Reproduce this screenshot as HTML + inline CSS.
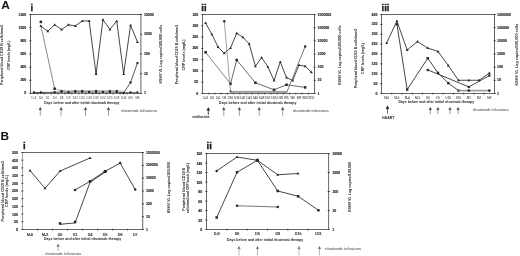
<!DOCTYPE html>
<html><head><meta charset="utf-8"><style>
html,body{margin:0;padding:0;background:#fff;width:520px;height:256px;overflow:hidden}
svg{display:block;will-change:transform;filter:blur(0.25px)}
text{font-family:"Liberation Sans",sans-serif}
</style></head><body>
<svg width="520" height="256" viewBox="0 0 520 256">
<rect width="520" height="256" fill="#fff"/>
<text x="0" y="0" font-size="10.2" font-weight="bold" fill="#111" transform="translate(1.3 9.2) scale(1.17 1)">A</text>
<text x="30.60" y="11.20" font-size="9.5" text-anchor="start" fill="#1e1e1e" font-weight="bold" stroke="#1e1e1e" stroke-width="0.35">i</text>
<rect x="30.50" y="14.50" width="110.40" height="78.90" fill="none" stroke="#666666" stroke-width="1"/>
<line x1="29.20" y1="14.50" x2="31.40" y2="14.50" stroke="#303030" stroke-width="0.8"/>
<text x="26.30" y="15.55" font-size="3.55" text-anchor="end" fill="#1e1e1e" font-weight="bold" stroke="#1e1e1e" stroke-width="0.12">1200</text>
<line x1="29.20" y1="27.65" x2="31.40" y2="27.65" stroke="#303030" stroke-width="0.8"/>
<text x="26.30" y="28.70" font-size="3.55" text-anchor="end" fill="#1e1e1e" font-weight="bold" stroke="#1e1e1e" stroke-width="0.12">1000</text>
<line x1="29.20" y1="40.80" x2="31.40" y2="40.80" stroke="#303030" stroke-width="0.8"/>
<text x="26.30" y="41.85" font-size="3.55" text-anchor="end" fill="#1e1e1e" font-weight="bold" stroke="#1e1e1e" stroke-width="0.12">800</text>
<line x1="29.20" y1="53.95" x2="31.40" y2="53.95" stroke="#303030" stroke-width="0.8"/>
<text x="26.30" y="55.00" font-size="3.55" text-anchor="end" fill="#1e1e1e" font-weight="bold" stroke="#1e1e1e" stroke-width="0.12">600</text>
<line x1="29.20" y1="67.10" x2="31.40" y2="67.10" stroke="#303030" stroke-width="0.8"/>
<text x="26.30" y="68.15" font-size="3.55" text-anchor="end" fill="#1e1e1e" font-weight="bold" stroke="#1e1e1e" stroke-width="0.12">400</text>
<line x1="29.20" y1="80.25" x2="31.40" y2="80.25" stroke="#303030" stroke-width="0.8"/>
<text x="26.30" y="81.30" font-size="3.55" text-anchor="end" fill="#1e1e1e" font-weight="bold" stroke="#1e1e1e" stroke-width="0.12">200</text>
<line x1="29.20" y1="93.40" x2="31.40" y2="93.40" stroke="#303030" stroke-width="0.8"/>
<text x="26.30" y="94.45" font-size="3.55" text-anchor="end" fill="#1e1e1e" font-weight="bold" stroke="#1e1e1e" stroke-width="0.12">0</text>
<line x1="140.00" y1="14.50" x2="142.20" y2="14.50" stroke="#303030" stroke-width="0.8"/>
<text x="143.90" y="15.55" font-size="3.55" text-anchor="start" fill="#1e1e1e" font-weight="bold" stroke="#1e1e1e" stroke-width="0.12">10000</text>
<line x1="140.00" y1="34.23" x2="142.20" y2="34.23" stroke="#303030" stroke-width="0.8"/>
<text x="143.90" y="35.27" font-size="3.55" text-anchor="start" fill="#1e1e1e" font-weight="bold" stroke="#1e1e1e" stroke-width="0.12">1000</text>
<line x1="140.00" y1="53.95" x2="142.20" y2="53.95" stroke="#303030" stroke-width="0.8"/>
<text x="143.90" y="55.00" font-size="3.55" text-anchor="start" fill="#1e1e1e" font-weight="bold" stroke="#1e1e1e" stroke-width="0.12">100</text>
<line x1="140.00" y1="73.68" x2="142.20" y2="73.68" stroke="#303030" stroke-width="0.8"/>
<text x="143.90" y="74.73" font-size="3.55" text-anchor="start" fill="#1e1e1e" font-weight="bold" stroke="#1e1e1e" stroke-width="0.12">10</text>
<line x1="140.00" y1="93.40" x2="142.20" y2="93.40" stroke="#303030" stroke-width="0.8"/>
<text x="143.90" y="94.45" font-size="3.55" text-anchor="start" fill="#1e1e1e" font-weight="bold" stroke="#1e1e1e" stroke-width="0.12">1</text>
<line x1="37.40" y1="92.60" x2="37.40" y2="94.40" stroke="#303030" stroke-width="0.8"/>
<line x1="44.30" y1="92.60" x2="44.30" y2="94.40" stroke="#303030" stroke-width="0.8"/>
<line x1="51.20" y1="92.60" x2="51.20" y2="94.40" stroke="#303030" stroke-width="0.8"/>
<line x1="58.10" y1="92.60" x2="58.10" y2="94.40" stroke="#303030" stroke-width="0.8"/>
<line x1="65.00" y1="92.60" x2="65.00" y2="94.40" stroke="#303030" stroke-width="0.8"/>
<line x1="71.90" y1="92.60" x2="71.90" y2="94.40" stroke="#303030" stroke-width="0.8"/>
<line x1="78.80" y1="92.60" x2="78.80" y2="94.40" stroke="#303030" stroke-width="0.8"/>
<line x1="85.70" y1="92.60" x2="85.70" y2="94.40" stroke="#303030" stroke-width="0.8"/>
<line x1="92.60" y1="92.60" x2="92.60" y2="94.40" stroke="#303030" stroke-width="0.8"/>
<line x1="99.50" y1="92.60" x2="99.50" y2="94.40" stroke="#303030" stroke-width="0.8"/>
<line x1="106.40" y1="92.60" x2="106.40" y2="94.40" stroke="#303030" stroke-width="0.8"/>
<line x1="113.30" y1="92.60" x2="113.30" y2="94.40" stroke="#303030" stroke-width="0.8"/>
<line x1="120.20" y1="92.60" x2="120.20" y2="94.40" stroke="#303030" stroke-width="0.8"/>
<line x1="127.10" y1="92.60" x2="127.10" y2="94.40" stroke="#303030" stroke-width="0.8"/>
<line x1="134.00" y1="92.60" x2="134.00" y2="94.40" stroke="#303030" stroke-width="0.8"/>
<text x="33.95" y="99.10" font-size="2.9" text-anchor="middle" fill="#404040" font-weight="normal">D-6</text>
<text x="40.85" y="99.10" font-size="2.9" text-anchor="middle" fill="#404040" font-weight="normal">D0</text>
<text x="47.75" y="99.10" font-size="2.9" text-anchor="middle" fill="#404040" font-weight="normal">D1</text>
<text x="54.65" y="99.10" font-size="2.9" text-anchor="middle" fill="#404040" font-weight="normal">D4</text>
<text x="61.55" y="99.10" font-size="2.9" text-anchor="middle" fill="#404040" font-weight="normal">D8</text>
<text x="68.45" y="99.10" font-size="2.9" text-anchor="middle" fill="#404040" font-weight="normal">D9</text>
<text x="75.35" y="99.10" font-size="2.9" text-anchor="middle" fill="#404040" font-weight="normal">D12</text>
<text x="82.25" y="99.10" font-size="2.9" text-anchor="middle" fill="#404040" font-weight="normal">D15</text>
<text x="89.15" y="99.10" font-size="2.9" text-anchor="middle" fill="#404040" font-weight="normal">D18</text>
<text x="96.05" y="99.10" font-size="2.9" text-anchor="middle" fill="#404040" font-weight="normal">D19</text>
<text x="102.95" y="99.10" font-size="2.9" text-anchor="middle" fill="#404040" font-weight="normal">D22</text>
<text x="109.85" y="99.10" font-size="2.9" text-anchor="middle" fill="#404040" font-weight="normal">D25</text>
<text x="116.75" y="99.10" font-size="2.9" text-anchor="middle" fill="#404040" font-weight="normal">D28</text>
<text x="123.65" y="99.10" font-size="2.9" text-anchor="middle" fill="#404040" font-weight="normal">D46</text>
<text x="130.55" y="99.10" font-size="2.9" text-anchor="middle" fill="#404040" font-weight="normal">M4</text>
<text x="137.45" y="99.10" font-size="2.9" text-anchor="middle" fill="#404040" font-weight="normal">M6</text>
<text x="81.85" y="103.60" font-size="3.46" text-anchor="middle" fill="#1e1e1e" font-weight="bold" textLength="75.30" lengthAdjust="spacingAndGlyphs">Days before and after initial rituximab therapy</text>
<text x="3.20" y="55.00" font-size="3.6" text-anchor="middle" fill="#1e1e1e" font-weight="bold" transform="rotate(-90 3.20 55.00)" textLength="60" lengthAdjust="spacingAndGlyphs">Peripheral blood CD19 B cells/mm3</text>
<text x="9.90" y="55.30" font-size="3.6" text-anchor="middle" fill="#1e1e1e" font-weight="bold" transform="rotate(-90 9.90 55.30)" textLength="29.5" lengthAdjust="spacingAndGlyphs">CRP levels (mg/L)</text>
<text x="162.50" y="54.10" font-size="3.6" text-anchor="middle" fill="#1e1e1e" font-weight="bold" transform="rotate(-90 162.50 54.10)" textLength="58.8" lengthAdjust="spacingAndGlyphs">KSHV VL Log copies/100,000 cells</text>
<polyline points="40.85,25.50 54.65,88.75" fill="none" stroke="#6a6a6a" stroke-width="0.8" stroke-linejoin="round"/>
<polyline points="54.65,88.75 61.55,90.70 116.75,90.70 123.65,91.20" fill="none" stroke="#8a8a8a" stroke-width="0.65" stroke-linejoin="round"/>
<polyline points="33.95,92.50 40.85,92.50 54.65,92.30 61.55,91.80 68.45,92.20 75.35,91.80 82.25,91.80 89.15,92.00 96.05,92.00 102.95,92.00 109.85,92.00 116.75,92.00 123.65,93.00 130.55,82.40 137.45,63.10" fill="none" stroke="#262626" stroke-width="0.75" stroke-linejoin="round"/>
<circle cx="33.95" cy="92.50" r="1.2" fill="#262626"/>
<circle cx="40.85" cy="92.50" r="1.2" fill="#262626"/>
<circle cx="54.65" cy="92.30" r="1.2" fill="#262626"/>
<circle cx="61.55" cy="91.80" r="1.2" fill="#262626"/>
<circle cx="68.45" cy="92.20" r="1.2" fill="#262626"/>
<circle cx="75.35" cy="91.80" r="1.2" fill="#262626"/>
<circle cx="82.25" cy="91.80" r="1.2" fill="#262626"/>
<circle cx="89.15" cy="92.00" r="1.2" fill="#262626"/>
<circle cx="96.05" cy="92.00" r="1.2" fill="#262626"/>
<circle cx="102.95" cy="92.00" r="1.2" fill="#262626"/>
<circle cx="109.85" cy="92.00" r="1.2" fill="#262626"/>
<circle cx="116.75" cy="92.00" r="1.2" fill="#262626"/>
<circle cx="123.65" cy="93.00" r="1.2" fill="#262626"/>
<circle cx="130.55" cy="82.40" r="1.2" fill="#262626"/>
<circle cx="137.45" cy="63.10" r="1.2" fill="#262626"/>
<rect x="60.65" y="89.90" width="1.8" height="1.8" fill="#262626"/>
<rect x="74.45" y="89.90" width="1.8" height="1.8" fill="#262626"/>
<rect x="81.35" y="89.90" width="1.8" height="1.8" fill="#262626"/>
<rect x="95.15" y="89.90" width="1.8" height="1.8" fill="#262626"/>
<rect x="108.95" y="89.90" width="1.8" height="1.8" fill="#262626"/>
<rect x="115.85" y="89.90" width="1.8" height="1.8" fill="#262626"/>
<polyline points="123.65,92.80 130.55,92.40 137.45,92.40" fill="none" stroke="#444" stroke-width="0.7" stroke-linejoin="round"/>
<circle cx="130.55" cy="92.40" r="1.1" fill="#262626"/>
<circle cx="137.45" cy="92.40" r="1.1" fill="#262626"/>
<rect x="39.60" y="20.65" width="2.5" height="2.5" fill="#262626"/>
<rect x="53.40" y="87.50" width="2.5" height="2.5" fill="#262626"/>
<polyline points="40.85,26.00 47.75,31.25 54.65,24.75 61.55,29.60 68.45,24.75 75.35,25.90 82.25,21.00 89.15,20.90 96.05,74.00 102.95,19.75 109.85,29.40 116.75,21.00 123.65,74.00 130.55,25.25 137.45,41.90" fill="none" stroke="#262626" stroke-width="0.85" stroke-linejoin="round"/>
<polygon points="40.85,24.49 39.45,27.01 42.25,27.01" fill="#262626"/>
<polygon points="47.75,29.74 46.35,32.26 49.15,32.26" fill="#262626"/>
<polygon points="54.65,23.24 53.25,25.76 56.05,25.76" fill="#262626"/>
<polygon points="61.55,28.09 60.15,30.61 62.95,30.61" fill="#262626"/>
<polygon points="68.45,23.24 67.05,25.76 69.85,25.76" fill="#262626"/>
<polygon points="75.35,24.39 73.95,26.91 76.75,26.91" fill="#262626"/>
<polygon points="82.25,19.49 80.85,22.01 83.65,22.01" fill="#262626"/>
<polygon points="89.15,19.39 87.75,21.91 90.55,21.91" fill="#262626"/>
<polygon points="96.05,72.49 94.65,75.01 97.45,75.01" fill="#262626"/>
<polygon points="102.95,18.24 101.55,20.76 104.35,20.76" fill="#262626"/>
<polygon points="109.85,27.89 108.45,30.41 111.25,30.41" fill="#262626"/>
<polygon points="116.75,19.49 115.35,22.01 118.15,22.01" fill="#262626"/>
<polygon points="123.65,72.49 122.25,75.01 125.05,75.01" fill="#262626"/>
<polygon points="130.55,23.74 129.15,26.26 131.95,26.26" fill="#262626"/>
<polygon points="137.45,40.39 136.05,42.91 138.85,42.91" fill="#262626"/>
<line x1="40.25" y1="109.19" x2="40.25" y2="115.60" stroke="#9a9a9a" stroke-width="1.0"/>
<polygon points="40.25,107.30 38.90,110.00 40.25,109.59 41.60,110.00" fill="#333" stroke="#333" stroke-width="0.3" stroke-linejoin="round"/>
<line x1="61.10" y1="109.19" x2="61.10" y2="115.60" stroke="#9a9a9a" stroke-width="1.0"/>
<polygon points="61.10,107.30 59.75,110.00 61.10,109.59 62.45,110.00" fill="#333" stroke="#333" stroke-width="0.3" stroke-linejoin="round"/>
<line x1="85.50" y1="109.19" x2="85.50" y2="115.60" stroke="#9a9a9a" stroke-width="1.0"/>
<polygon points="85.50,107.30 84.15,110.00 85.50,109.59 86.85,110.00" fill="#333" stroke="#333" stroke-width="0.3" stroke-linejoin="round"/>
<line x1="108.50" y1="109.19" x2="108.50" y2="115.60" stroke="#9a9a9a" stroke-width="1.0"/>
<polygon points="108.50,107.30 107.15,110.00 108.50,109.59 109.85,110.00" fill="#333" stroke="#333" stroke-width="0.3" stroke-linejoin="round"/>
<text x="121.10" y="111.70" font-size="4.4" text-anchor="start" fill="#767676" font-weight="normal" stroke="#858585" stroke-width="0.15" textLength="36.00" lengthAdjust="spacingAndGlyphs">rituximab infusions</text>
<text x="201.30" y="11.00" font-size="9.5" text-anchor="start" fill="#1e1e1e" font-weight="bold" stroke="#1e1e1e" stroke-width="0.35">ii</text>
<rect x="202.50" y="14.50" width="112.00" height="79.00" fill="none" stroke="#666666" stroke-width="1"/>
<line x1="201.20" y1="14.50" x2="203.40" y2="14.50" stroke="#303030" stroke-width="0.8"/>
<text x="198.30" y="15.55" font-size="3.55" text-anchor="end" fill="#1e1e1e" font-weight="bold" stroke="#1e1e1e" stroke-width="0.12">350</text>
<line x1="201.20" y1="25.79" x2="203.40" y2="25.79" stroke="#303030" stroke-width="0.8"/>
<text x="198.30" y="26.84" font-size="3.55" text-anchor="end" fill="#1e1e1e" font-weight="bold" stroke="#1e1e1e" stroke-width="0.12">300</text>
<line x1="201.20" y1="37.07" x2="203.40" y2="37.07" stroke="#303030" stroke-width="0.8"/>
<text x="198.30" y="38.12" font-size="3.55" text-anchor="end" fill="#1e1e1e" font-weight="bold" stroke="#1e1e1e" stroke-width="0.12">250</text>
<line x1="201.20" y1="48.36" x2="203.40" y2="48.36" stroke="#303030" stroke-width="0.8"/>
<text x="198.30" y="49.41" font-size="3.55" text-anchor="end" fill="#1e1e1e" font-weight="bold" stroke="#1e1e1e" stroke-width="0.12">200</text>
<line x1="201.20" y1="59.64" x2="203.40" y2="59.64" stroke="#303030" stroke-width="0.8"/>
<text x="198.30" y="60.69" font-size="3.55" text-anchor="end" fill="#1e1e1e" font-weight="bold" stroke="#1e1e1e" stroke-width="0.12">150</text>
<line x1="201.20" y1="70.93" x2="203.40" y2="70.93" stroke="#303030" stroke-width="0.8"/>
<text x="198.30" y="71.98" font-size="3.55" text-anchor="end" fill="#1e1e1e" font-weight="bold" stroke="#1e1e1e" stroke-width="0.12">100</text>
<line x1="201.20" y1="82.21" x2="203.40" y2="82.21" stroke="#303030" stroke-width="0.8"/>
<text x="198.30" y="83.26" font-size="3.55" text-anchor="end" fill="#1e1e1e" font-weight="bold" stroke="#1e1e1e" stroke-width="0.12">50</text>
<line x1="201.20" y1="93.50" x2="203.40" y2="93.50" stroke="#303030" stroke-width="0.8"/>
<text x="198.30" y="94.55" font-size="3.55" text-anchor="end" fill="#1e1e1e" font-weight="bold" stroke="#1e1e1e" stroke-width="0.12">0</text>
<line x1="313.60" y1="14.50" x2="315.80" y2="14.50" stroke="#303030" stroke-width="0.8"/>
<text x="317.50" y="15.55" font-size="3.55" text-anchor="start" fill="#1e1e1e" font-weight="bold" stroke="#1e1e1e" stroke-width="0.12">1000000</text>
<line x1="313.60" y1="27.67" x2="315.80" y2="27.67" stroke="#303030" stroke-width="0.8"/>
<text x="317.50" y="28.72" font-size="3.55" text-anchor="start" fill="#1e1e1e" font-weight="bold" stroke="#1e1e1e" stroke-width="0.12">100000</text>
<line x1="313.60" y1="40.83" x2="315.80" y2="40.83" stroke="#303030" stroke-width="0.8"/>
<text x="317.50" y="41.88" font-size="3.55" text-anchor="start" fill="#1e1e1e" font-weight="bold" stroke="#1e1e1e" stroke-width="0.12">10000</text>
<line x1="313.60" y1="54.00" x2="315.80" y2="54.00" stroke="#303030" stroke-width="0.8"/>
<text x="317.50" y="55.05" font-size="3.55" text-anchor="start" fill="#1e1e1e" font-weight="bold" stroke="#1e1e1e" stroke-width="0.12">1000</text>
<line x1="313.60" y1="67.17" x2="315.80" y2="67.17" stroke="#303030" stroke-width="0.8"/>
<text x="317.50" y="68.22" font-size="3.55" text-anchor="start" fill="#1e1e1e" font-weight="bold" stroke="#1e1e1e" stroke-width="0.12">100</text>
<line x1="313.60" y1="80.33" x2="315.80" y2="80.33" stroke="#303030" stroke-width="0.8"/>
<text x="317.50" y="81.38" font-size="3.55" text-anchor="start" fill="#1e1e1e" font-weight="bold" stroke="#1e1e1e" stroke-width="0.12">10</text>
<line x1="313.60" y1="93.50" x2="315.80" y2="93.50" stroke="#303030" stroke-width="0.8"/>
<text x="317.50" y="94.55" font-size="3.55" text-anchor="start" fill="#1e1e1e" font-weight="bold" stroke="#1e1e1e" stroke-width="0.12">1</text>
<line x1="208.72" y1="92.70" x2="208.72" y2="94.50" stroke="#303030" stroke-width="0.8"/>
<line x1="214.94" y1="92.70" x2="214.94" y2="94.50" stroke="#303030" stroke-width="0.8"/>
<line x1="221.17" y1="92.70" x2="221.17" y2="94.50" stroke="#303030" stroke-width="0.8"/>
<line x1="227.39" y1="92.70" x2="227.39" y2="94.50" stroke="#303030" stroke-width="0.8"/>
<line x1="233.61" y1="92.70" x2="233.61" y2="94.50" stroke="#303030" stroke-width="0.8"/>
<line x1="239.83" y1="92.70" x2="239.83" y2="94.50" stroke="#303030" stroke-width="0.8"/>
<line x1="246.06" y1="92.70" x2="246.06" y2="94.50" stroke="#303030" stroke-width="0.8"/>
<line x1="252.28" y1="92.70" x2="252.28" y2="94.50" stroke="#303030" stroke-width="0.8"/>
<line x1="258.50" y1="92.70" x2="258.50" y2="94.50" stroke="#303030" stroke-width="0.8"/>
<line x1="264.72" y1="92.70" x2="264.72" y2="94.50" stroke="#303030" stroke-width="0.8"/>
<line x1="270.94" y1="92.70" x2="270.94" y2="94.50" stroke="#303030" stroke-width="0.8"/>
<line x1="277.17" y1="92.70" x2="277.17" y2="94.50" stroke="#303030" stroke-width="0.8"/>
<line x1="283.39" y1="92.70" x2="283.39" y2="94.50" stroke="#303030" stroke-width="0.8"/>
<line x1="289.61" y1="92.70" x2="289.61" y2="94.50" stroke="#303030" stroke-width="0.8"/>
<line x1="295.83" y1="92.70" x2="295.83" y2="94.50" stroke="#303030" stroke-width="0.8"/>
<line x1="302.06" y1="92.70" x2="302.06" y2="94.50" stroke="#303030" stroke-width="0.8"/>
<line x1="308.28" y1="92.70" x2="308.28" y2="94.50" stroke="#303030" stroke-width="0.8"/>
<text x="205.61" y="99.20" font-size="2.9" text-anchor="middle" fill="#404040" font-weight="normal" stroke="#404040" stroke-width="0.05">D-8</text>
<text x="211.83" y="99.20" font-size="2.9" text-anchor="middle" fill="#404040" font-weight="normal" stroke="#404040" stroke-width="0.05">D0</text>
<text x="218.06" y="99.20" font-size="2.9" text-anchor="middle" fill="#404040" font-weight="normal" stroke="#404040" stroke-width="0.05">D4</text>
<text x="224.28" y="99.20" font-size="2.9" text-anchor="middle" fill="#404040" font-weight="normal" stroke="#404040" stroke-width="0.05">D8</text>
<text x="230.50" y="99.20" font-size="2.9" text-anchor="middle" fill="#404040" font-weight="normal" stroke="#404040" stroke-width="0.05">D10</text>
<text x="236.72" y="99.20" font-size="2.9" text-anchor="middle" fill="#404040" font-weight="normal" stroke="#404040" stroke-width="0.05">D36</text>
<text x="242.94" y="99.20" font-size="2.9" text-anchor="middle" fill="#404040" font-weight="normal" stroke="#404040" stroke-width="0.05">D41</text>
<text x="249.17" y="99.20" font-size="2.9" text-anchor="middle" fill="#404040" font-weight="normal" stroke="#404040" stroke-width="0.05">D43</text>
<text x="255.39" y="99.20" font-size="2.9" text-anchor="middle" fill="#404040" font-weight="normal" stroke="#404040" stroke-width="0.05">D46</text>
<text x="261.61" y="99.20" font-size="2.9" text-anchor="middle" fill="#404040" font-weight="normal" stroke="#404040" stroke-width="0.05">D49</text>
<text x="267.83" y="99.20" font-size="2.9" text-anchor="middle" fill="#404040" font-weight="normal" stroke="#404040" stroke-width="0.05">D52</text>
<text x="274.06" y="99.20" font-size="2.9" text-anchor="middle" fill="#404040" font-weight="normal" stroke="#404040" stroke-width="0.05">D55</text>
<text x="280.28" y="99.20" font-size="2.9" text-anchor="middle" fill="#404040" font-weight="normal" stroke="#404040" stroke-width="0.05">D58</text>
<text x="286.50" y="99.20" font-size="2.9" text-anchor="middle" fill="#404040" font-weight="normal" stroke="#404040" stroke-width="0.05">W5</text>
<text x="292.72" y="99.20" font-size="2.9" text-anchor="middle" fill="#404040" font-weight="normal" stroke="#404040" stroke-width="0.05">W6</text>
<text x="298.94" y="99.20" font-size="2.9" text-anchor="middle" fill="#404040" font-weight="normal" stroke="#404040" stroke-width="0.05">W8</text>
<text x="305.17" y="99.20" font-size="2.9" text-anchor="middle" fill="#404040" font-weight="normal" stroke="#404040" stroke-width="0.05">W10</text>
<text x="311.39" y="99.20" font-size="2.9" text-anchor="middle" fill="#404040" font-weight="normal" stroke="#404040" stroke-width="0.05">W12</text>
<text x="257.80" y="103.80" font-size="3.46" text-anchor="middle" fill="#1e1e1e" font-weight="bold" textLength="77.40" lengthAdjust="spacingAndGlyphs">Days before and after initial rituximab therapy</text>
<text x="178.00" y="54.50" font-size="3.6" text-anchor="middle" fill="#1e1e1e" font-weight="bold" transform="rotate(-90 178.00 54.50)" textLength="59.6" lengthAdjust="spacingAndGlyphs">Peripheral blood CD19 B cells/mm3</text>
<text x="185.30" y="54.90" font-size="3.6" text-anchor="middle" fill="#1e1e1e" font-weight="bold" transform="rotate(-90 185.30 54.90)" textLength="31" lengthAdjust="spacingAndGlyphs">CRP levels (mg/L)</text>
<text x="341.10" y="55.30" font-size="3.6" text-anchor="middle" fill="#1e1e1e" font-weight="bold" transform="rotate(-90 341.10 55.30)" textLength="59.6" lengthAdjust="spacingAndGlyphs">KSHV VL Log copies/100,000 cells</text>
<polyline points="205.61,23.10 211.83,34.30 218.06,47.00 224.28,53.30 230.50,48.00 236.72,33.20 242.94,37.30 249.17,43.80 255.39,66.20 261.61,57.60 267.83,66.70 274.06,80.40 280.28,61.90 286.50,77.60 292.72,80.40 298.94,65.10 305.17,66.20 311.39,72.30" fill="none" stroke="#262626" stroke-width="0.85" stroke-linejoin="round"/>
<polygon points="205.61,21.59 204.21,24.11 207.01,24.11" fill="#262626"/>
<polygon points="211.83,32.79 210.43,35.31 213.23,35.31" fill="#262626"/>
<polygon points="218.06,45.49 216.66,48.01 219.46,48.01" fill="#262626"/>
<polygon points="224.28,51.79 222.88,54.31 225.68,54.31" fill="#262626"/>
<polygon points="230.50,46.49 229.10,49.01 231.90,49.01" fill="#262626"/>
<polygon points="236.72,31.69 235.32,34.21 238.12,34.21" fill="#262626"/>
<polygon points="242.94,35.79 241.54,38.31 244.34,38.31" fill="#262626"/>
<polygon points="249.17,42.29 247.77,44.81 250.57,44.81" fill="#262626"/>
<polygon points="255.39,64.69 253.99,67.21 256.79,67.21" fill="#262626"/>
<polygon points="261.61,56.09 260.21,58.61 263.01,58.61" fill="#262626"/>
<polygon points="267.83,65.19 266.43,67.71 269.23,67.71" fill="#262626"/>
<polygon points="274.06,78.89 272.66,81.41 275.46,81.41" fill="#262626"/>
<polygon points="280.28,60.39 278.88,62.91 281.68,62.91" fill="#262626"/>
<polygon points="286.50,76.09 285.10,78.61 287.90,78.61" fill="#262626"/>
<polygon points="292.72,78.89 291.32,81.41 294.12,81.41" fill="#262626"/>
<polygon points="298.94,63.59 297.54,66.11 300.34,66.11" fill="#262626"/>
<polygon points="305.17,64.69 303.77,67.21 306.57,67.21" fill="#262626"/>
<polygon points="311.39,70.79 309.99,73.31 312.79,73.31" fill="#262626"/>
<polyline points="205.61,52.25 230.50,83.80" fill="none" stroke="#5a5a5a" stroke-width="0.75" stroke-linejoin="round"/>
<polyline points="230.50,83.80 236.72,60.00 255.39,82.75 274.06,89.80 286.50,84.80 305.17,87.40" fill="none" stroke="#444" stroke-width="0.8" stroke-linejoin="round"/>
<rect x="204.36" y="51.00" width="2.5" height="2.5" fill="#262626"/>
<rect x="229.25" y="82.55" width="2.5" height="2.5" fill="#262626"/>
<rect x="235.47" y="58.75" width="2.5" height="2.5" fill="#262626"/>
<rect x="254.14" y="81.50" width="2.5" height="2.5" fill="#262626"/>
<rect x="272.81" y="88.55" width="2.5" height="2.5" fill="#262626"/>
<rect x="285.25" y="83.55" width="2.5" height="2.5" fill="#262626"/>
<rect x="303.92" y="86.15" width="2.5" height="2.5" fill="#262626"/>
<polyline points="224.28,21.25 230.50,91.40" fill="none" stroke="#777" stroke-width="0.7" stroke-linejoin="round"/>
<rect x="230.50" y="90.9" width="56.00" height="1.9" fill="#9a9a9a"/>
<polyline points="286.50,93.00 305.17,46.50" fill="none" stroke="#5a5a5a" stroke-width="0.8" stroke-linejoin="round"/>
<circle cx="224.28" cy="21.25" r="1.25" fill="#262626"/>
<rect x="229.70" y="90.60" width="1.6" height="1.6" fill="#262626"/>
<circle cx="305.17" cy="46.50" r="1.25" fill="#262626"/>
<line x1="208.30" y1="109.64" x2="208.30" y2="115.00" stroke="#222" stroke-width="0.8"/>
<polygon points="208.30,107.40 206.70,110.60 208.30,110.12 209.90,110.60" fill="#111" stroke="#111" stroke-width="0.3" stroke-linejoin="round"/>
<text x="192.20" y="118.40" font-size="3.35" text-anchor="start" fill="#1e1e1e" font-weight="bold" textLength="17.5" lengthAdjust="spacingAndGlyphs">vinblastine</text>
<line x1="223.80" y1="109.19" x2="223.80" y2="115.60" stroke="#9a9a9a" stroke-width="1.0"/>
<polygon points="223.80,107.30 222.45,110.00 223.80,109.59 225.15,110.00" fill="#333" stroke="#333" stroke-width="0.3" stroke-linejoin="round"/>
<line x1="239.40" y1="109.19" x2="239.40" y2="115.60" stroke="#9a9a9a" stroke-width="1.0"/>
<polygon points="239.40,107.30 238.05,110.00 239.40,109.59 240.75,110.00" fill="#333" stroke="#333" stroke-width="0.3" stroke-linejoin="round"/>
<line x1="259.20" y1="109.19" x2="259.20" y2="115.60" stroke="#9a9a9a" stroke-width="1.0"/>
<polygon points="259.20,107.30 257.85,110.00 259.20,109.59 260.55,110.00" fill="#333" stroke="#333" stroke-width="0.3" stroke-linejoin="round"/>
<line x1="282.70" y1="109.19" x2="282.70" y2="115.60" stroke="#9a9a9a" stroke-width="1.0"/>
<polygon points="282.70,107.30 281.35,110.00 282.70,109.59 284.05,110.00" fill="#333" stroke="#333" stroke-width="0.3" stroke-linejoin="round"/>
<text x="292.70" y="111.50" font-size="4.4" text-anchor="start" fill="#767676" font-weight="normal" stroke="#858585" stroke-width="0.15" textLength="36.00" lengthAdjust="spacingAndGlyphs">rituximab infusions</text>
<text x="381.60" y="11.00" font-size="9.5" text-anchor="start" fill="#1e1e1e" font-weight="bold" stroke="#1e1e1e" stroke-width="0.35">iii</text>
<rect x="381.50" y="14.50" width="113.00" height="79.00" fill="none" stroke="#666666" stroke-width="1"/>
<line x1="380.20" y1="14.50" x2="382.40" y2="14.50" stroke="#303030" stroke-width="0.8"/>
<text x="377.50" y="15.55" font-size="3.55" text-anchor="end" fill="#1e1e1e" font-weight="bold" stroke="#1e1e1e" stroke-width="0.12">400</text>
<line x1="380.20" y1="24.38" x2="382.40" y2="24.38" stroke="#303030" stroke-width="0.8"/>
<text x="377.50" y="25.43" font-size="3.55" text-anchor="end" fill="#1e1e1e" font-weight="bold" stroke="#1e1e1e" stroke-width="0.12">350</text>
<line x1="380.20" y1="34.25" x2="382.40" y2="34.25" stroke="#303030" stroke-width="0.8"/>
<text x="377.50" y="35.30" font-size="3.55" text-anchor="end" fill="#1e1e1e" font-weight="bold" stroke="#1e1e1e" stroke-width="0.12">300</text>
<line x1="380.20" y1="44.12" x2="382.40" y2="44.12" stroke="#303030" stroke-width="0.8"/>
<text x="377.50" y="45.17" font-size="3.55" text-anchor="end" fill="#1e1e1e" font-weight="bold" stroke="#1e1e1e" stroke-width="0.12">250</text>
<line x1="380.20" y1="54.00" x2="382.40" y2="54.00" stroke="#303030" stroke-width="0.8"/>
<text x="377.50" y="55.05" font-size="3.55" text-anchor="end" fill="#1e1e1e" font-weight="bold" stroke="#1e1e1e" stroke-width="0.12">200</text>
<line x1="380.20" y1="63.88" x2="382.40" y2="63.88" stroke="#303030" stroke-width="0.8"/>
<text x="377.50" y="64.92" font-size="3.55" text-anchor="end" fill="#1e1e1e" font-weight="bold" stroke="#1e1e1e" stroke-width="0.12">150</text>
<line x1="380.20" y1="73.75" x2="382.40" y2="73.75" stroke="#303030" stroke-width="0.8"/>
<text x="377.50" y="74.80" font-size="3.55" text-anchor="end" fill="#1e1e1e" font-weight="bold" stroke="#1e1e1e" stroke-width="0.12">100</text>
<line x1="380.20" y1="83.62" x2="382.40" y2="83.62" stroke="#303030" stroke-width="0.8"/>
<text x="377.50" y="84.67" font-size="3.55" text-anchor="end" fill="#1e1e1e" font-weight="bold" stroke="#1e1e1e" stroke-width="0.12">50</text>
<line x1="380.20" y1="93.50" x2="382.40" y2="93.50" stroke="#303030" stroke-width="0.8"/>
<text x="377.50" y="94.55" font-size="3.55" text-anchor="end" fill="#1e1e1e" font-weight="bold" stroke="#1e1e1e" stroke-width="0.12">0</text>
<line x1="493.60" y1="14.50" x2="495.80" y2="14.50" stroke="#303030" stroke-width="0.8"/>
<text x="497.10" y="15.55" font-size="3.55" text-anchor="start" fill="#1e1e1e" font-weight="bold" stroke="#1e1e1e" stroke-width="0.12">1000000</text>
<line x1="493.60" y1="27.67" x2="495.80" y2="27.67" stroke="#303030" stroke-width="0.8"/>
<text x="497.10" y="28.72" font-size="3.55" text-anchor="start" fill="#1e1e1e" font-weight="bold" stroke="#1e1e1e" stroke-width="0.12">100000</text>
<line x1="493.60" y1="40.83" x2="495.80" y2="40.83" stroke="#303030" stroke-width="0.8"/>
<text x="497.10" y="41.88" font-size="3.55" text-anchor="start" fill="#1e1e1e" font-weight="bold" stroke="#1e1e1e" stroke-width="0.12">10000</text>
<line x1="493.60" y1="54.00" x2="495.80" y2="54.00" stroke="#303030" stroke-width="0.8"/>
<text x="497.10" y="55.05" font-size="3.55" text-anchor="start" fill="#1e1e1e" font-weight="bold" stroke="#1e1e1e" stroke-width="0.12">1000</text>
<line x1="493.60" y1="67.17" x2="495.80" y2="67.17" stroke="#303030" stroke-width="0.8"/>
<text x="497.10" y="68.22" font-size="3.55" text-anchor="start" fill="#1e1e1e" font-weight="bold" stroke="#1e1e1e" stroke-width="0.12">100</text>
<line x1="493.60" y1="80.33" x2="495.80" y2="80.33" stroke="#303030" stroke-width="0.8"/>
<text x="497.10" y="81.38" font-size="3.55" text-anchor="start" fill="#1e1e1e" font-weight="bold" stroke="#1e1e1e" stroke-width="0.12">10</text>
<line x1="493.60" y1="93.50" x2="495.80" y2="93.50" stroke="#303030" stroke-width="0.8"/>
<text x="497.10" y="94.55" font-size="3.55" text-anchor="start" fill="#1e1e1e" font-weight="bold" stroke="#1e1e1e" stroke-width="0.12">1</text>
<line x1="391.77" y1="92.70" x2="391.77" y2="94.50" stroke="#303030" stroke-width="0.8"/>
<line x1="402.05" y1="92.70" x2="402.05" y2="94.50" stroke="#303030" stroke-width="0.8"/>
<line x1="412.32" y1="92.70" x2="412.32" y2="94.50" stroke="#303030" stroke-width="0.8"/>
<line x1="422.59" y1="92.70" x2="422.59" y2="94.50" stroke="#303030" stroke-width="0.8"/>
<line x1="432.86" y1="92.70" x2="432.86" y2="94.50" stroke="#303030" stroke-width="0.8"/>
<line x1="443.14" y1="92.70" x2="443.14" y2="94.50" stroke="#303030" stroke-width="0.8"/>
<line x1="453.41" y1="92.70" x2="453.41" y2="94.50" stroke="#303030" stroke-width="0.8"/>
<line x1="463.68" y1="92.70" x2="463.68" y2="94.50" stroke="#303030" stroke-width="0.8"/>
<line x1="473.95" y1="92.70" x2="473.95" y2="94.50" stroke="#303030" stroke-width="0.8"/>
<line x1="484.23" y1="92.70" x2="484.23" y2="94.50" stroke="#303030" stroke-width="0.8"/>
<text x="386.64" y="99.20" font-size="2.9" text-anchor="middle" fill="#404040" font-weight="normal" stroke="#404040" stroke-width="0.05">M-6</text>
<text x="396.91" y="99.20" font-size="2.9" text-anchor="middle" fill="#404040" font-weight="normal" stroke="#404040" stroke-width="0.05">M-5</text>
<text x="407.18" y="99.20" font-size="2.9" text-anchor="middle" fill="#404040" font-weight="normal" stroke="#404040" stroke-width="0.05">M-4</text>
<text x="417.45" y="99.20" font-size="2.9" text-anchor="middle" fill="#404040" font-weight="normal" stroke="#404040" stroke-width="0.05">M-3</text>
<text x="427.73" y="99.20" font-size="2.9" text-anchor="middle" fill="#404040" font-weight="normal" stroke="#404040" stroke-width="0.05">D0</text>
<text x="438.00" y="99.20" font-size="2.9" text-anchor="middle" fill="#404040" font-weight="normal" stroke="#404040" stroke-width="0.05">D5</text>
<text x="448.27" y="99.20" font-size="2.9" text-anchor="middle" fill="#404040" font-weight="normal" stroke="#404040" stroke-width="0.05">D10</text>
<text x="458.55" y="99.20" font-size="2.9" text-anchor="middle" fill="#404040" font-weight="normal" stroke="#404040" stroke-width="0.05">D15</text>
<text x="468.82" y="99.20" font-size="2.9" text-anchor="middle" fill="#404040" font-weight="normal" stroke="#404040" stroke-width="0.05">M1</text>
<text x="479.09" y="99.20" font-size="2.9" text-anchor="middle" fill="#404040" font-weight="normal" stroke="#404040" stroke-width="0.05">M2</text>
<text x="489.36" y="99.20" font-size="2.9" text-anchor="middle" fill="#404040" font-weight="normal" stroke="#404040" stroke-width="0.05">M3</text>
<text x="436.30" y="103.40" font-size="3.46" text-anchor="middle" fill="#1e1e1e" font-weight="bold" textLength="75.80" lengthAdjust="spacingAndGlyphs">Days before and after initial rituximab therapy</text>
<text x="356.70" y="58.50" font-size="3.6" text-anchor="middle" fill="#1e1e1e" font-weight="bold" transform="rotate(-90 356.70 58.50)" textLength="59.7" lengthAdjust="spacingAndGlyphs">Peripheral blood CD19 B cells/mm3</text>
<text x="363.60" y="58.40" font-size="3.6" text-anchor="middle" fill="#1e1e1e" font-weight="bold" transform="rotate(-90 363.60 58.40)" textLength="31" lengthAdjust="spacingAndGlyphs">CRP levels (mg/L)</text>
<text x="518.30" y="54.80" font-size="3.6" text-anchor="middle" fill="#1e1e1e" font-weight="bold" transform="rotate(-90 518.30 54.80)" textLength="61.6" lengthAdjust="spacingAndGlyphs">KSHV VL Log copies/100,000 cells</text>
<polyline points="386.64,42.90 396.91,21.10 407.18,50.00 417.45,41.60 427.73,48.10 438.00,51.40 448.27,65.50 458.55,80.25 468.82,80.25 479.09,80.25 489.36,73.10" fill="none" stroke="#262626" stroke-width="0.85" stroke-linejoin="round"/>
<polygon points="386.64,41.39 385.24,43.91 388.04,43.91" fill="#262626"/>
<polygon points="396.91,19.59 395.51,22.11 398.31,22.11" fill="#262626"/>
<polygon points="407.18,48.49 405.78,51.01 408.58,51.01" fill="#262626"/>
<polygon points="417.45,40.09 416.05,42.61 418.85,42.61" fill="#262626"/>
<polygon points="427.73,46.59 426.33,49.11 429.13,49.11" fill="#262626"/>
<polygon points="438.00,49.89 436.60,52.41 439.40,52.41" fill="#262626"/>
<polygon points="448.27,63.99 446.87,66.51 449.67,66.51" fill="#262626"/>
<polygon points="458.55,78.74 457.15,81.26 459.95,81.26" fill="#262626"/>
<polygon points="468.82,78.74 467.42,81.26 470.22,81.26" fill="#262626"/>
<polygon points="479.09,78.74 477.69,81.26 480.49,81.26" fill="#262626"/>
<polygon points="489.36,71.59 487.96,74.11 490.76,74.11" fill="#262626"/>
<polyline points="396.91,24.25 407.18,89.60 427.73,58.25 438.00,72.90 448.27,83.10 458.55,90.60" fill="none" stroke="#262626" stroke-width="0.85" stroke-linejoin="round"/>
<rect x="395.71" y="23.05" width="2.4" height="2.4" fill="#262626"/>
<rect x="405.98" y="88.40" width="2.4" height="2.4" fill="#262626"/>
<rect x="426.53" y="57.05" width="2.4" height="2.4" fill="#262626"/>
<rect x="436.80" y="71.70" width="2.4" height="2.4" fill="#262626"/>
<rect x="447.07" y="81.90" width="2.4" height="2.4" fill="#262626"/>
<rect x="457.35" y="89.40" width="2.4" height="2.4" fill="#262626"/>
<rect x="458.55" y="89.8" width="30.82" height="1.6" fill="#9a9a9a"/>
<circle cx="468.82" cy="90.60" r="1.3" fill="#262626"/>
<circle cx="489.36" cy="90.60" r="1.3" fill="#262626"/>
<polyline points="427.73,69.90 468.82,86.90 489.36,75.60" fill="none" stroke="#262626" stroke-width="0.85" stroke-linejoin="round"/>
<circle cx="427.73" cy="69.90" r="1.25" fill="#262626"/>
<circle cx="468.82" cy="86.90" r="1.25" fill="#262626"/>
<circle cx="489.36" cy="75.60" r="1.25" fill="#262626"/>
<line x1="387.50" y1="108.04" x2="387.50" y2="113.60" stroke="#333" stroke-width="0.75"/>
<polygon points="387.50,105.80 385.90,109.00 387.50,108.52 389.10,109.00" fill="#111" stroke="#111" stroke-width="0.3" stroke-linejoin="round"/>
<text x="382.00" y="118.80" font-size="3.4" text-anchor="start" fill="#1e1e1e" font-weight="bold" textLength="12.5" lengthAdjust="spacingAndGlyphs">HAART</text>
<line x1="430.30" y1="109.09" x2="430.30" y2="114.20" stroke="#9a9a9a" stroke-width="1.0"/>
<polygon points="430.30,107.20 428.95,109.90 430.30,109.50 431.65,109.90" fill="#333" stroke="#333" stroke-width="0.3" stroke-linejoin="round"/>
<line x1="437.90" y1="109.09" x2="437.90" y2="114.20" stroke="#9a9a9a" stroke-width="1.0"/>
<polygon points="437.90,107.20 436.55,109.90 437.90,109.50 439.25,109.90" fill="#333" stroke="#333" stroke-width="0.3" stroke-linejoin="round"/>
<line x1="450.00" y1="109.09" x2="450.00" y2="114.20" stroke="#9a9a9a" stroke-width="1.0"/>
<polygon points="450.00,107.20 448.65,109.90 450.00,109.50 451.35,109.90" fill="#333" stroke="#333" stroke-width="0.3" stroke-linejoin="round"/>
<line x1="458.10" y1="109.09" x2="458.10" y2="114.20" stroke="#9a9a9a" stroke-width="1.0"/>
<polygon points="458.10,107.20 456.75,109.90 458.10,109.50 459.45,109.90" fill="#333" stroke="#333" stroke-width="0.3" stroke-linejoin="round"/>
<text x="472.90" y="111.00" font-size="4.4" text-anchor="start" fill="#767676" font-weight="normal" stroke="#858585" stroke-width="0.15" textLength="35.80" lengthAdjust="spacingAndGlyphs">rituximab infusions</text>
<text x="0" y="0" font-size="10.6" font-weight="bold" fill="#111" transform="translate(0.5 140.3) scale(1.12 1)">B</text>
<text x="22.90" y="148.50" font-size="9.5" text-anchor="start" fill="#1e1e1e" font-weight="bold" stroke="#1e1e1e" stroke-width="0.35">i</text>
<rect x="22.50" y="152.50" width="120.20" height="77.00" fill="none" stroke="#666666" stroke-width="1"/>
<line x1="22.50" y1="153.00" x2="22.50" y2="229.00" stroke="#a0a0a0" stroke-width="1.05"/>
<line x1="21.20" y1="152.50" x2="23.40" y2="152.50" stroke="#303030" stroke-width="0.8"/>
<text x="17.90" y="153.90" font-size="3.55" text-anchor="end" fill="#1e1e1e" font-weight="bold" stroke="#1e1e1e" stroke-width="0.12">500</text>
<line x1="21.20" y1="160.20" x2="23.40" y2="160.20" stroke="#303030" stroke-width="0.8"/>
<text x="17.90" y="161.60" font-size="3.55" text-anchor="end" fill="#1e1e1e" font-weight="bold" stroke="#1e1e1e" stroke-width="0.12">450</text>
<line x1="21.20" y1="167.90" x2="23.40" y2="167.90" stroke="#303030" stroke-width="0.8"/>
<text x="17.90" y="169.30" font-size="3.55" text-anchor="end" fill="#1e1e1e" font-weight="bold" stroke="#1e1e1e" stroke-width="0.12">400</text>
<line x1="21.20" y1="175.60" x2="23.40" y2="175.60" stroke="#303030" stroke-width="0.8"/>
<text x="17.90" y="177.00" font-size="3.55" text-anchor="end" fill="#1e1e1e" font-weight="bold" stroke="#1e1e1e" stroke-width="0.12">350</text>
<line x1="21.20" y1="183.30" x2="23.40" y2="183.30" stroke="#303030" stroke-width="0.8"/>
<text x="17.90" y="184.70" font-size="3.55" text-anchor="end" fill="#1e1e1e" font-weight="bold" stroke="#1e1e1e" stroke-width="0.12">300</text>
<line x1="21.20" y1="191.00" x2="23.40" y2="191.00" stroke="#303030" stroke-width="0.8"/>
<text x="17.90" y="192.40" font-size="3.55" text-anchor="end" fill="#1e1e1e" font-weight="bold" stroke="#1e1e1e" stroke-width="0.12">250</text>
<line x1="21.20" y1="198.70" x2="23.40" y2="198.70" stroke="#303030" stroke-width="0.8"/>
<text x="17.90" y="200.10" font-size="3.55" text-anchor="end" fill="#1e1e1e" font-weight="bold" stroke="#1e1e1e" stroke-width="0.12">200</text>
<line x1="21.20" y1="206.40" x2="23.40" y2="206.40" stroke="#303030" stroke-width="0.8"/>
<text x="17.90" y="207.80" font-size="3.55" text-anchor="end" fill="#1e1e1e" font-weight="bold" stroke="#1e1e1e" stroke-width="0.12">150</text>
<line x1="21.20" y1="214.10" x2="23.40" y2="214.10" stroke="#303030" stroke-width="0.8"/>
<text x="17.90" y="215.50" font-size="3.55" text-anchor="end" fill="#1e1e1e" font-weight="bold" stroke="#1e1e1e" stroke-width="0.12">100</text>
<line x1="21.20" y1="221.80" x2="23.40" y2="221.80" stroke="#303030" stroke-width="0.8"/>
<text x="17.90" y="223.20" font-size="3.55" text-anchor="end" fill="#1e1e1e" font-weight="bold" stroke="#1e1e1e" stroke-width="0.12">50</text>
<line x1="21.20" y1="229.50" x2="23.40" y2="229.50" stroke="#303030" stroke-width="0.8"/>
<text x="17.90" y="230.90" font-size="3.55" text-anchor="end" fill="#1e1e1e" font-weight="bold" stroke="#1e1e1e" stroke-width="0.12">0</text>
<line x1="141.80" y1="152.50" x2="144.00" y2="152.50" stroke="#303030" stroke-width="0.8"/>
<text x="145.90" y="153.55" font-size="3.55" text-anchor="start" fill="#1e1e1e" font-weight="bold" stroke="#1e1e1e" stroke-width="0.12">1000000</text>
<line x1="141.80" y1="165.33" x2="144.00" y2="165.33" stroke="#303030" stroke-width="0.8"/>
<text x="145.90" y="166.38" font-size="3.55" text-anchor="start" fill="#1e1e1e" font-weight="bold" stroke="#1e1e1e" stroke-width="0.12">100000</text>
<line x1="141.80" y1="178.17" x2="144.00" y2="178.17" stroke="#303030" stroke-width="0.8"/>
<text x="145.90" y="179.22" font-size="3.55" text-anchor="start" fill="#1e1e1e" font-weight="bold" stroke="#1e1e1e" stroke-width="0.12">10000</text>
<line x1="141.80" y1="191.00" x2="144.00" y2="191.00" stroke="#303030" stroke-width="0.8"/>
<text x="145.90" y="192.05" font-size="3.55" text-anchor="start" fill="#1e1e1e" font-weight="bold" stroke="#1e1e1e" stroke-width="0.12">1000</text>
<line x1="141.80" y1="203.83" x2="144.00" y2="203.83" stroke="#303030" stroke-width="0.8"/>
<text x="145.90" y="204.88" font-size="3.55" text-anchor="start" fill="#1e1e1e" font-weight="bold" stroke="#1e1e1e" stroke-width="0.12">100</text>
<line x1="141.80" y1="216.67" x2="144.00" y2="216.67" stroke="#303030" stroke-width="0.8"/>
<text x="145.90" y="217.72" font-size="3.55" text-anchor="start" fill="#1e1e1e" font-weight="bold" stroke="#1e1e1e" stroke-width="0.12">10</text>
<line x1="141.80" y1="229.50" x2="144.00" y2="229.50" stroke="#303030" stroke-width="0.8"/>
<text x="145.90" y="230.55" font-size="3.55" text-anchor="start" fill="#1e1e1e" font-weight="bold" stroke="#1e1e1e" stroke-width="0.12">1</text>
<line x1="37.52" y1="228.70" x2="37.52" y2="230.50" stroke="#303030" stroke-width="0.8"/>
<line x1="52.55" y1="228.70" x2="52.55" y2="230.50" stroke="#303030" stroke-width="0.8"/>
<line x1="67.57" y1="228.70" x2="67.57" y2="230.50" stroke="#303030" stroke-width="0.8"/>
<line x1="82.60" y1="228.70" x2="82.60" y2="230.50" stroke="#303030" stroke-width="0.8"/>
<line x1="97.62" y1="228.70" x2="97.62" y2="230.50" stroke="#303030" stroke-width="0.8"/>
<line x1="112.65" y1="228.70" x2="112.65" y2="230.50" stroke="#303030" stroke-width="0.8"/>
<line x1="127.67" y1="228.70" x2="127.67" y2="230.50" stroke="#303030" stroke-width="0.8"/>
<text x="30.01" y="236.00" font-size="3.6" text-anchor="middle" fill="#404040" font-weight="normal" stroke="#333" stroke-width="0.2">M-6</text>
<text x="45.04" y="236.00" font-size="3.6" text-anchor="middle" fill="#404040" font-weight="normal" stroke="#333" stroke-width="0.2">M-3</text>
<text x="60.06" y="236.00" font-size="3.6" text-anchor="middle" fill="#404040" font-weight="normal" stroke="#333" stroke-width="0.2">D0</text>
<text x="75.09" y="236.00" font-size="3.6" text-anchor="middle" fill="#404040" font-weight="normal" stroke="#333" stroke-width="0.2">D1</text>
<text x="90.11" y="236.00" font-size="3.6" text-anchor="middle" fill="#404040" font-weight="normal" stroke="#333" stroke-width="0.2">D4</text>
<text x="105.14" y="236.00" font-size="3.6" text-anchor="middle" fill="#404040" font-weight="normal" stroke="#333" stroke-width="0.2">D5</text>
<text x="120.16" y="236.00" font-size="3.6" text-anchor="middle" fill="#404040" font-weight="normal" stroke="#333" stroke-width="0.2">D6</text>
<text x="135.19" y="236.00" font-size="3.6" text-anchor="middle" fill="#404040" font-weight="normal" stroke="#333" stroke-width="0.2">D7</text>
<text x="82.60" y="240.30" font-size="3.46" text-anchor="middle" fill="#1e1e1e" font-weight="bold" textLength="77.20" lengthAdjust="spacingAndGlyphs">Days before and after initial rituximab therapy</text>
<text x="3.90" y="191.20" font-size="3.6" text-anchor="middle" fill="#1e1e1e" font-weight="bold" transform="rotate(-90 3.90 191.20)" textLength="60.4" lengthAdjust="spacingAndGlyphs">Peripheral blood CD19 B cells/mm3</text>
<text x="7.80" y="191.00" font-size="3.6" text-anchor="middle" fill="#1e1e1e" font-weight="bold" transform="rotate(-90 7.80 191.00)" textLength="32" lengthAdjust="spacingAndGlyphs">CRP levels (mg/L)</text>
<text x="170.10" y="187.80" font-size="3.6" text-anchor="middle" fill="#1e1e1e" font-weight="bold" transform="rotate(-90 170.10 187.80)" textLength="51" lengthAdjust="spacingAndGlyphs">KSHV VL Log copies/100,000</text>
<polyline points="30.01,170.50 45.04,188.25 60.06,171.10 90.11,157.90" fill="none" stroke="#262626" stroke-width="0.85" stroke-linejoin="round"/>
<polygon points="30.01,168.99 28.61,171.51 31.41,171.51" fill="#262626"/>
<polygon points="45.04,186.74 43.64,189.26 46.44,189.26" fill="#262626"/>
<polygon points="60.06,169.59 58.66,172.11 61.46,172.11" fill="#262626"/>
<polygon points="90.11,156.39 88.71,158.91 91.51,158.91" fill="#262626"/>
<polyline points="75.09,190.00 90.11,181.25 105.14,171.25 120.16,163.10 135.19,189.50" fill="none" stroke="#262626" stroke-width="0.85" stroke-linejoin="round"/>
<circle cx="75.09" cy="190.00" r="1.25" fill="#262626"/>
<circle cx="90.11" cy="181.25" r="1.25" fill="#262626"/>
<circle cx="105.14" cy="171.25" r="1.25" fill="#262626"/>
<circle cx="120.16" cy="163.10" r="1.25" fill="#262626"/>
<circle cx="135.19" cy="189.50" r="1.25" fill="#262626"/>
<polyline points="60.06,224.30 75.09,222.90 90.11,182.15 105.14,172.15" fill="none" stroke="#262626" stroke-width="0.85" stroke-linejoin="round"/>
<rect x="58.81" y="222.15" width="2.5" height="2.5" fill="#262626"/>
<rect x="73.84" y="220.75" width="2.5" height="2.5" fill="#262626"/>
<rect x="88.86" y="180.00" width="2.5" height="2.5" fill="#262626"/>
<rect x="103.89" y="170.00" width="2.5" height="2.5" fill="#262626"/>
<circle cx="105.14" cy="171.60" r="1.6" fill="#262626"/>
<line x1="58.10" y1="245.89" x2="58.10" y2="251.00" stroke="#a0a0a0" stroke-width="0.75"/>
<polygon points="58.10,244.00 56.75,246.70 58.10,246.29 59.45,246.70" fill="#666" stroke="#666" stroke-width="0.3" stroke-linejoin="round"/>
<text x="45.00" y="254.80" font-size="4.4" text-anchor="start" fill="#767676" font-weight="normal" stroke="#858585" stroke-width="0.15" textLength="36.30" lengthAdjust="spacingAndGlyphs">rituximab infusions</text>
<text x="206.60" y="148.70" font-size="9.5" text-anchor="start" fill="#1e1e1e" font-weight="bold" stroke="#1e1e1e" stroke-width="0.35">ii</text>
<rect x="206.50" y="153.50" width="122.10" height="76.00" fill="none" stroke="#666666" stroke-width="1"/>
<line x1="205.20" y1="153.50" x2="207.40" y2="153.50" stroke="#303030" stroke-width="0.8"/>
<text x="202.30" y="155.00" font-size="3.55" text-anchor="end" fill="#1e1e1e" font-weight="bold" stroke="#1e1e1e" stroke-width="0.12">160</text>
<line x1="205.20" y1="163.00" x2="207.40" y2="163.00" stroke="#303030" stroke-width="0.8"/>
<text x="202.30" y="164.50" font-size="3.55" text-anchor="end" fill="#1e1e1e" font-weight="bold" stroke="#1e1e1e" stroke-width="0.12">140</text>
<line x1="205.20" y1="172.50" x2="207.40" y2="172.50" stroke="#303030" stroke-width="0.8"/>
<text x="202.30" y="174.00" font-size="3.55" text-anchor="end" fill="#1e1e1e" font-weight="bold" stroke="#1e1e1e" stroke-width="0.12">120</text>
<line x1="205.20" y1="182.00" x2="207.40" y2="182.00" stroke="#303030" stroke-width="0.8"/>
<text x="202.30" y="183.50" font-size="3.55" text-anchor="end" fill="#1e1e1e" font-weight="bold" stroke="#1e1e1e" stroke-width="0.12">100</text>
<line x1="205.20" y1="191.50" x2="207.40" y2="191.50" stroke="#303030" stroke-width="0.8"/>
<text x="202.30" y="193.00" font-size="3.55" text-anchor="end" fill="#1e1e1e" font-weight="bold" stroke="#1e1e1e" stroke-width="0.12">80</text>
<line x1="205.20" y1="201.00" x2="207.40" y2="201.00" stroke="#303030" stroke-width="0.8"/>
<text x="202.30" y="202.50" font-size="3.55" text-anchor="end" fill="#1e1e1e" font-weight="bold" stroke="#1e1e1e" stroke-width="0.12">60</text>
<line x1="205.20" y1="210.50" x2="207.40" y2="210.50" stroke="#303030" stroke-width="0.8"/>
<text x="202.30" y="212.00" font-size="3.55" text-anchor="end" fill="#1e1e1e" font-weight="bold" stroke="#1e1e1e" stroke-width="0.12">40</text>
<line x1="205.20" y1="220.00" x2="207.40" y2="220.00" stroke="#303030" stroke-width="0.8"/>
<text x="202.30" y="221.50" font-size="3.55" text-anchor="end" fill="#1e1e1e" font-weight="bold" stroke="#1e1e1e" stroke-width="0.12">20</text>
<line x1="205.20" y1="229.50" x2="207.40" y2="229.50" stroke="#303030" stroke-width="0.8"/>
<text x="202.30" y="231.00" font-size="3.55" text-anchor="end" fill="#1e1e1e" font-weight="bold" stroke="#1e1e1e" stroke-width="0.12">0</text>
<line x1="327.70" y1="153.50" x2="329.90" y2="153.50" stroke="#303030" stroke-width="0.8"/>
<text x="332.20" y="154.55" font-size="3.55" text-anchor="start" fill="#1e1e1e" font-weight="bold" stroke="#1e1e1e" stroke-width="0.12">10000</text>
<line x1="327.70" y1="172.50" x2="329.90" y2="172.50" stroke="#303030" stroke-width="0.8"/>
<text x="332.20" y="173.55" font-size="3.55" text-anchor="start" fill="#1e1e1e" font-weight="bold" stroke="#1e1e1e" stroke-width="0.12">1000</text>
<line x1="327.70" y1="191.50" x2="329.90" y2="191.50" stroke="#303030" stroke-width="0.8"/>
<text x="332.20" y="192.55" font-size="3.55" text-anchor="start" fill="#1e1e1e" font-weight="bold" stroke="#1e1e1e" stroke-width="0.12">100</text>
<line x1="327.70" y1="210.50" x2="329.90" y2="210.50" stroke="#303030" stroke-width="0.8"/>
<text x="332.20" y="211.55" font-size="3.55" text-anchor="start" fill="#1e1e1e" font-weight="bold" stroke="#1e1e1e" stroke-width="0.12">10</text>
<line x1="327.70" y1="229.50" x2="329.90" y2="229.50" stroke="#303030" stroke-width="0.8"/>
<text x="332.20" y="230.55" font-size="3.55" text-anchor="start" fill="#1e1e1e" font-weight="bold" stroke="#1e1e1e" stroke-width="0.12">1</text>
<line x1="226.85" y1="228.70" x2="226.85" y2="230.50" stroke="#303030" stroke-width="0.8"/>
<line x1="247.20" y1="228.70" x2="247.20" y2="230.50" stroke="#303030" stroke-width="0.8"/>
<line x1="267.55" y1="228.70" x2="267.55" y2="230.50" stroke="#303030" stroke-width="0.8"/>
<line x1="287.90" y1="228.70" x2="287.90" y2="230.50" stroke="#303030" stroke-width="0.8"/>
<line x1="308.25" y1="228.70" x2="308.25" y2="230.50" stroke="#303030" stroke-width="0.8"/>
<text x="216.68" y="235.20" font-size="3.6" text-anchor="middle" fill="#404040" font-weight="normal" stroke="#333" stroke-width="0.2">D-9</text>
<text x="237.03" y="235.20" font-size="3.6" text-anchor="middle" fill="#404040" font-weight="normal" stroke="#333" stroke-width="0.2">D0</text>
<text x="257.38" y="235.20" font-size="3.6" text-anchor="middle" fill="#404040" font-weight="normal" stroke="#333" stroke-width="0.2">D6</text>
<text x="277.73" y="235.20" font-size="3.6" text-anchor="middle" fill="#404040" font-weight="normal" stroke="#333" stroke-width="0.2">D9</text>
<text x="298.08" y="235.20" font-size="3.6" text-anchor="middle" fill="#404040" font-weight="normal" stroke="#333" stroke-width="0.2">D15</text>
<text x="318.43" y="235.20" font-size="3.6" text-anchor="middle" fill="#404040" font-weight="normal" stroke="#333" stroke-width="0.2">D21</text>
<text x="265.15" y="240.60" font-size="3.46" text-anchor="middle" fill="#1e1e1e" font-weight="bold" textLength="76.30" lengthAdjust="spacingAndGlyphs">Days before and after initial rituximab therapy</text>
<text x="184.90" y="189.30" font-size="3.6" text-anchor="middle" fill="#1e1e1e" font-weight="bold" transform="rotate(-90 184.90 189.30)" textLength="43" lengthAdjust="spacingAndGlyphs">Peripheral blood CD19 B</text>
<text x="188.50" y="188.00" font-size="3.6" text-anchor="middle" fill="#1e1e1e" font-weight="bold" transform="rotate(-90 188.50 188.00)" textLength="50" lengthAdjust="spacingAndGlyphs">cells/mm3 and CRP levels (mg/L)</text>
<text x="350.80" y="187.00" font-size="3.6" text-anchor="middle" fill="#1e1e1e" font-weight="bold" transform="rotate(-90 350.80 187.00)" textLength="50" lengthAdjust="spacingAndGlyphs">KSHV VL Log copies/100,000</text>
<polyline points="216.68,170.90 237.03,157.00 257.38,160.30 277.73,174.75 298.08,173.50" fill="none" stroke="#262626" stroke-width="0.85" stroke-linejoin="round"/>
<polygon points="237.03,155.49 235.62,158.01 238.43,158.01" fill="#262626"/>
<polygon points="257.38,158.79 255.97,161.31 258.77,161.31" fill="#262626"/>
<polygon points="277.73,173.24 276.33,175.76 279.12,175.76" fill="#262626"/>
<polygon points="298.08,171.99 296.68,174.51 299.48,174.51" fill="#262626"/>
<circle cx="216.68" cy="170.90" r="1.25" fill="#262626"/>
<polyline points="216.68,217.50 237.03,172.30 257.38,160.30 277.73,191.00 298.08,196.25 318.43,210.25" fill="none" stroke="#262626" stroke-width="0.85" stroke-linejoin="round"/>
<rect x="215.43" y="216.25" width="2.5" height="2.5" fill="#262626"/>
<rect x="235.78" y="171.05" width="2.5" height="2.5" fill="#262626"/>
<rect x="256.12" y="159.05" width="2.5" height="2.5" fill="#262626"/>
<rect x="276.48" y="189.75" width="2.5" height="2.5" fill="#262626"/>
<rect x="296.83" y="195.00" width="2.5" height="2.5" fill="#262626"/>
<rect x="317.18" y="209.00" width="2.5" height="2.5" fill="#262626"/>
<circle cx="257.38" cy="160.20" r="1.6" fill="#262626"/>
<polyline points="237.03,205.75 277.73,207.00" fill="none" stroke="#555" stroke-width="0.8" stroke-linejoin="round"/>
<circle cx="237.03" cy="205.75" r="1.25" fill="#262626"/>
<circle cx="277.73" cy="207.00" r="1.25" fill="#262626"/>
<line x1="239.00" y1="248.09" x2="239.00" y2="255.50" stroke="#a0a0a0" stroke-width="0.75"/>
<polygon points="239.00,246.20 237.65,248.90 239.00,248.49 240.35,248.90" fill="#666" stroke="#666" stroke-width="0.3" stroke-linejoin="round"/>
<line x1="257.50" y1="248.09" x2="257.50" y2="255.50" stroke="#a0a0a0" stroke-width="0.75"/>
<polygon points="257.50,246.20 256.15,248.90 257.50,248.49 258.85,248.90" fill="#666" stroke="#666" stroke-width="0.3" stroke-linejoin="round"/>
<line x1="299.00" y1="248.09" x2="299.00" y2="255.50" stroke="#a0a0a0" stroke-width="0.75"/>
<polygon points="299.00,246.20 297.65,248.90 299.00,248.49 300.35,248.90" fill="#666" stroke="#666" stroke-width="0.3" stroke-linejoin="round"/>
<line x1="319.50" y1="248.09" x2="319.50" y2="255.50" stroke="#a0a0a0" stroke-width="0.75"/>
<polygon points="319.50,246.20 318.15,248.90 319.50,248.49 320.85,248.90" fill="#666" stroke="#666" stroke-width="0.3" stroke-linejoin="round"/>
<text x="325.00" y="250.30" font-size="4.4" text-anchor="start" fill="#767676" font-weight="normal" stroke="#858585" stroke-width="0.15" textLength="36.30" lengthAdjust="spacingAndGlyphs">rituximab infusions</text>
</svg>
</body></html>
